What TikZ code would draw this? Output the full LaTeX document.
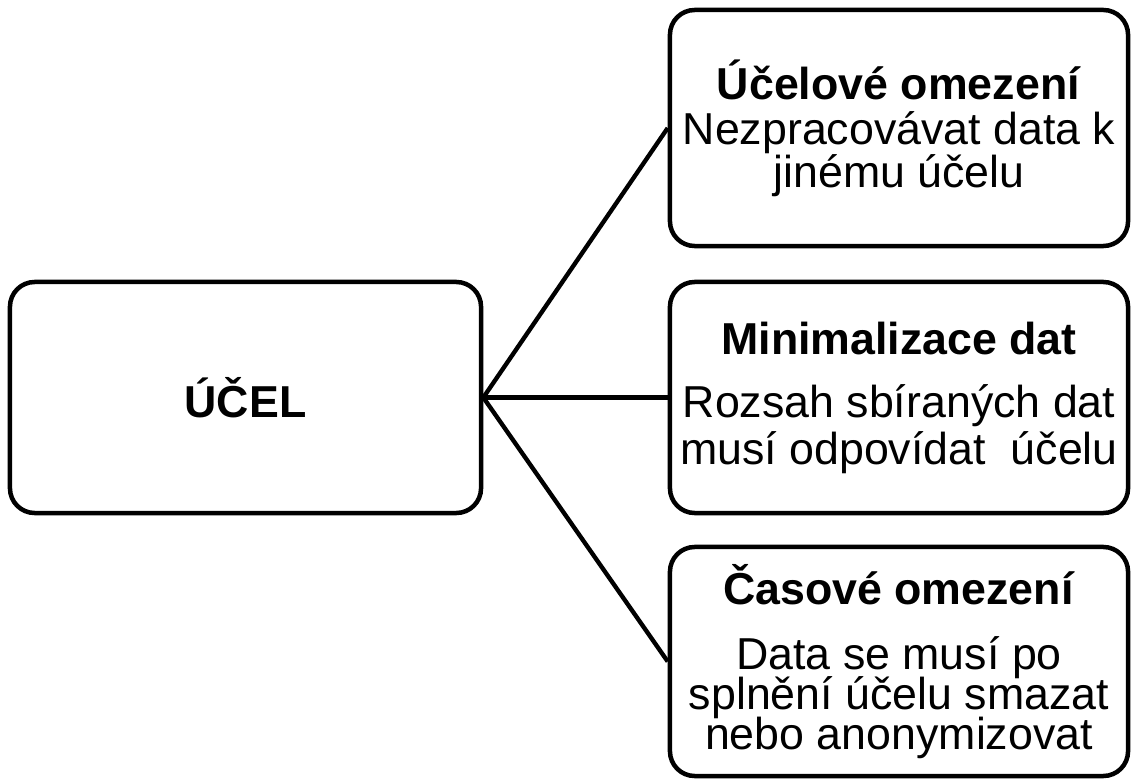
\documentclass[tikz,border=0pt]{standalone}
\usepackage{fontspec}
\setmainfont{Liberation Sans}
\usepackage{tikz}

\newcommand\boxsize[1]{\fontsize{31.8}{#1}\selectfont\lineskiplimit=-50pt}

\tikzset{
  box/.style={draw, line width=3.2pt, rounded corners=0.62cm, inner sep=0pt,
    align=center, minimum width=11.45cm},
  link/.style={line width=3.1pt}
}

\begin{document}
\begin{tikzpicture}[x=0.025cm, y=-0.025cm]
  \useasboundingbox (0, 0) rectangle (1132, 780);
  \node[box, minimum width=11.775cm, minimum height=5.775cm, font=\boxsize{30.6}] (ucel) at (245.5, 397.5) {\textbf{ÚČEL}};
  \node[box, minimum height=5.9cm, font=\boxsize{30.6}] (omezeni) at (899, 128)
    {\textbf{Účelové omezení}\\[1.4pt]Nezpracovávat data k\\jinému účelu};
  \node[box, minimum height=5.775cm, font=\boxsize{33.4}] (minimum) at (899, 397.5)
    {\textbf{Minimalizace dat}\\[11.4pt]Rozsah sbíraných dat\\musí odpovídat~ účelu};
  \node[box, minimum height=5.725cm, font=\boxsize{28.5}] (cas) at (899, 661.5)
    {\textbf{Časové omezení}\\[17.8pt]Data se musí po\\splnění účelu smazat\\nebo anonymizovat};
  \draw[link] (ucel.east) -- (omezeni.west);
  \draw[link] (ucel.east) -- (minimum.west);
  \draw[link] (ucel.east) -- (cas.west);
\end{tikzpicture}
\end{document}
